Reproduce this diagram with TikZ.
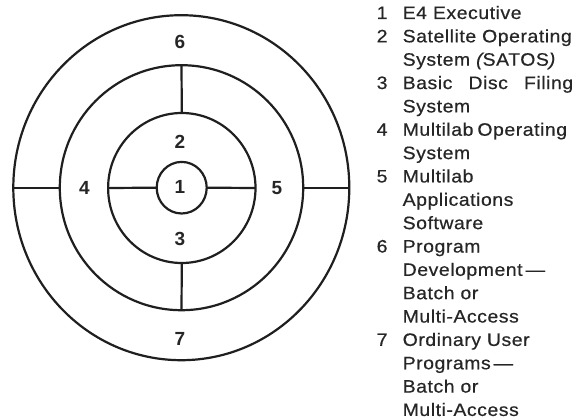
\documentclass[tikz,border=0pt]{standalone}
\usepackage{fontspec}
\setmainfont{Liberation Sans}
\newfontfamily\listfont[FakeStretch=1.08,LetterSpace=3,FakeBold=0.5]{Liberation Sans}
\usetikzlibrary{shapes.geometric}
\tikzset{
  ring/.style={draw=black!88, line width=2.2pt, ellipse, inner sep=0pt, outer sep=0pt},
  divider/.style={draw=black!88, line width=2.2pt},
  digit/.style={inner sep=0pt, font=\fontsize{19}{19}\selectfont\bfseries, text=black!85},
  itemnum/.style={anchor=base west, inner sep=0pt, font=\listfont\fontsize{18}{23}\selectfont, text=black!85},
  itemline/.style={anchor=base west, inner sep=0pt, font=\listfont\fontsize{18}{23}\selectfont, text=black!85}
}
\begin{document}
\begin{tikzpicture}[x=1pt,y=-1pt]
\useasboundingbox (0,0) rectangle (585,419);
\fill[white] (0,0) rectangle (585,419);
% rings
\node[ring, minimum width=336pt, minimum height=345pt] (outer) at (181.3,187.7) {};
\node[ring, minimum width=243.4pt, minimum height=245pt] (mid) at (181.5,187.7) {};
\node[ring, minimum width=147.4pt, minimum height=150pt] (inr) at (181.8,188) {};
\node[ring, minimum width=50pt, minimum height=51.6pt] (core) at (181.7,187.7) {};
% dividers
\draw[divider] (outer.west) -- (mid.west);
\draw[divider] (mid.east) -- (outer.east);
\draw[divider] (inr.west) -- (core.west);
\draw[divider] (core.east) -- (inr.east);
\draw[divider] (mid.north) -- (inr.north);
\draw[divider] (inr.south) -- (mid.south);
% ring labels
\node[digit] (d6) at (180,42) {6};
\node[digit] (d2) at (180,142) {2};
\node[digit] (d4) at (84.3,188) {4};
\node[digit] (d1) at (180,187) {1};
\node[digit] (d5) at (277,188) {5};
\node[digit] (d3) at (180,238.7) {3};
\node[digit] (d7) at (180,338.7) {7};
% legend
\def\nx{376.5}
\def\tx{402.5}
\node[itemnum] (n1) at (\nx,19) {1};
\node[itemline] (l1) at (\tx,19) {E4 Executive};
\node[itemnum] (n2) at (\nx,42.35) {2};
\node[itemline] (l2) at (\tx,42.35) {Satellite Operating};
\node[itemline] (l3) at (\tx,65.7) {System {\itshape(}SATOS{\itshape)}};
\node[itemnum] (n3) at (\nx,89.05) {3};
\node[itemline] (l4) at (\tx,89.05) {\hbox to 170.5pt{Basic\hfill Disc\hfill Filing}};
\node[itemline] (l5) at (\tx,112.4) {System};
\node[itemnum] (n4) at (\nx,135.75) {4};
\node[itemline] (l6) at (\tx,135.75) {Multilab\hspace{-2pt} Operating};
\node[itemline] (l7) at (\tx,159.1) {System};
\node[itemnum] (n5) at (\nx,182.45) {5};
\node[itemline] (l8) at (\tx,182.45) {Multilab};
\node[itemline] (l9) at (\tx,205.8) {Applications};
\node[itemline] (l10) at (\tx,229.15) {Software};
\node[itemnum] (n6) at (\nx,252.5) {6};
\node[itemline] (l11) at (\tx,252.5) {Program};
\node[itemline] (l12) at (\tx,275.85) {Development\,—};
\node[itemline] (l13) at (\tx,299.2) {Batch or};
\node[itemline] (l14) at (\tx,322.55) {Multi-Access};
\node[itemnum] (n7) at (\nx,345.9) {7};
\node[itemline] (l15) at (\tx,345.9) {Ordinary User};
\node[itemline] (l16) at (\tx,369.25) {Programs\,—};
\node[itemline] (l17) at (\tx,392.6) {Batch or};
\node[itemline] (l18) at (\tx,415.95) {Multi-Access};
\end{tikzpicture}
\end{document}
